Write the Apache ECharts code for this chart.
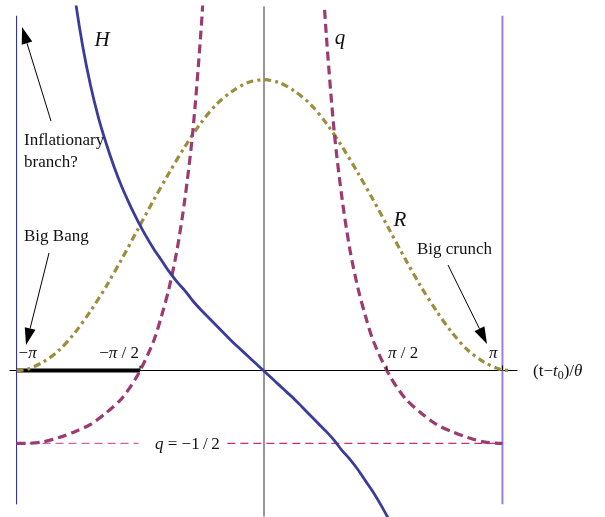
<!DOCTYPE html>
<html>
<head>
<meta charset="utf-8">
<script src="https://cdn.jsdelivr.net/npm/echarts@6/dist/echarts.min.js"></script>
<style>
  html, body { margin: 0; padding: 0; background: #fff; }
  #chart { width: 605px; height: 517px; }
</style>
</head>
<body>
<div id="chart"></div>
<script>
// Closed Friedmann model: scale factor R, Hubble rate H and deceleration q
// against (t - t0)/theta, one cycle from the big bang to the big crunch.

const bangX = -3.1416;     // big bang edge
const crunchX = 3.04;      // big crunch edge

// R
const xR   = [-3.1416, -3.0, -2.8, -2.6, -2.4, -2.2, -2.0, -1.8, -1.6, -1.4, -1.2, -1.0, -0.8, -0.6, -0.4, -0.2, 0,
              0.2, 0.4, 0.6, 0.8, 1.0, 1.2, 1.4, 1.6, 1.8, 2.0, 2.2, 2.4, 2.6, 2.8, 3.0, 3.1416];
const valR = [0, 0.01, 0.06, 0.14, 0.26, 0.41, 0.58, 0.77, 0.97, 1.17, 1.36, 1.54, 1.70, 1.83, 1.92, 1.98, 2.0,
              1.98, 1.92, 1.83, 1.70, 1.54, 1.36, 1.17, 0.97, 0.77, 0.58, 0.41, 0.26, 0.14, 0.06, 0.01, 0];

// q, expanding branch
const xQL   = [-3.1416, -3.0, -2.8, -2.6, -2.4, -2.2, -2.0, -1.8, -1.6, -1.4, -1.3, -1.2, -1.1, -1.0, -0.9, -0.8, -0.75, -0.7];
const valQL = [-0.50, -0.50, -0.49, -0.46, -0.42, -0.37, -0.29, -0.19, -0.03, 0.20, 0.37, 0.57, 0.83, 1.18, 1.64, 2.30, 2.73, 3.25];
// q, contracting branch
const xQR   = [0.7, 0.75, 0.8, 0.9, 1.0, 1.1, 1.2, 1.3, 1.4, 1.6, 1.8, 2.0, 2.2, 2.4, 2.6, 2.8, 3.0, 3.04];
const valQR = [3.25, 2.73, 2.30, 1.64, 1.18, 0.83, 0.57, 0.37, 0.20, -0.03, -0.19, -0.29, -0.37, -0.42, -0.46, -0.49, -0.50, -0.50];

// H
const xH   = [-2.5, -2.4, -2.3, -2.2, -2.1, -2.0, -1.9, -1.8, -1.7, -1.6, -1.5, -1.4, -1.3, -1.2, -1.1, -1.0,
              -0.9, -0.8, -0.7, -0.6, -0.5, -0.4, -0.3, -0.2, -0.1, 0,
              0.1, 0.2, 0.3, 0.4, 0.5, 0.6, 0.7, 0.8, 0.9, 1.0, 1.1, 1.2, 1.3, 1.4, 1.5, 1.6, 1.7];
const valH = [3.01, 2.57, 2.23, 1.96, 1.74, 1.56, 1.40, 1.26, 1.14, 1.03, 0.93, 0.84, 0.76, 0.68, 0.61, 0.55,
              0.48, 0.42, 0.365, 0.31, 0.255, 0.20, 0.15, 0.10, 0.05, 0,
              -0.05, -0.10, -0.15, -0.20, -0.255, -0.31, -0.365, -0.42, -0.48, -0.55, -0.61, -0.68, -0.76, -0.84, -0.93, -1.03, -1.14];

// q = -1/2 reference level, broken where its label sits
const qLimit = -0.5;
const qLimitLeft  = [bangX, -1.59];
const qLimitRight = [-0.46, crunchX];

// edges of the cycle (vertical extent)
const edgeY = [-0.92, 2.44];

// the decelerating stretch marked on the time axis
const boldStretch = [bangX, -1.5708];

// time-axis ticks
const tickX      = [bangX, -1.5708, 1.5708, crunchX];
const tickLabels = ['−π', '−π / 2', 'π / 2', 'π'];

const COL_H = '#3b3b9c';
const COL_Q = '#9b3b70';
const COL_R = '#9b8e3d';
const SERIF = '"Liberation Serif", "DejaVu Serif", serif';

const zip = (xs, ys) => xs.map((x, i) => [x, ys[i]]);

const chart = echarts.init(document.getElementById('chart'), null, { renderer: 'canvas' });

const curve = (name, data, color, width, type, z) => ({
  type: 'line', name: name, data: data, smooth: 0.3, symbol: 'none',
  lineStyle: { color: color, width: width, type: type }, z: z
});

chart.setOption({
  animation: false,
  backgroundColor: '#ffffff',
  grid: { left: 10, width: 507, top: 7, height: 509, containLabel: false },
  xAxis: {
    type: 'value', min: -3.225, max: 3.225,
    axisLine: { show: true, onZero: true, lineStyle: { color: '#000', width: 1 } },
    axisTick: { show: false }, axisLabel: { show: false }, splitLine: { show: false }
  },
  yAxis: {
    type: 'value', min: -1, max: 2.5,
    axisLine: { show: true, onZero: true, lineStyle: { color: '#747474', width: 1.5 } },
    axisTick: { show: false }, axisLabel: { show: false }, splitLine: { show: false }
  },
  series: [
    { type: 'line', name: 'bang edge', data: [[bangX, edgeY[0]], [bangX, edgeY[1]]],
      symbol: 'none', lineStyle: { color: '#2a22c6', width: 1 }, z: 1 },
    { type: 'line', name: 'crunch edge', data: [[crunchX, edgeY[0]], [crunchX, edgeY[1]]],
      symbol: 'none', lineStyle: { color: '#9a7fe2', width: 2 }, z: 1 },
    { type: 'line', name: 'q limit left', data: qLimitLeft.map(x => [x, qLimit]),
      symbol: 'none', lineStyle: { color: '#d160a2', width: 1.2, type: [8, 5] }, z: 2 },
    { type: 'line', name: 'q limit right', data: qLimitRight.map(x => [x, qLimit]),
      symbol: 'none', lineStyle: { color: '#c42e7c', width: 1.2, type: [8, 5] }, z: 2 },
    { type: 'line', name: 'bold stretch', data: boldStretch.map(x => [x, 0]),
      symbol: 'none', lineStyle: { color: '#000', width: 4 }, z: 3 },
    curve('R',  zip(xR, valR),   COL_R, 3.2, [7, 4, 3, 4], 4),
    curve('q+', zip(xQL, valQL), COL_Q, 3.2, [9, 5], 5),
    curve('q-', zip(xQR, valQR), COL_Q, 3.2, [9, 5], 5),
    curve('H',  zip(xH, valH),   COL_H, 2.8, 'solid', 6)
  ]
});

const toPx = (x, y) => chart.convertToPixel({ gridIndex: 0 }, [x, y]);
const axisY = toPx(0, 0)[1];

const rich = {
  n: { fontFamily: SERIF, fontSize: 17, fill: '#111' },
  i: { fontFamily: SERIF, fontSize: 17, fontStyle: 'italic', fill: '#111' },
  s: { fontFamily: SERIF, fontSize: 12, fill: '#111', padding: [9, 0, 0, 0] }
};

const g = [];

// tick marks and tick labels
tickX.forEach((x, k) => {
  const p = toPx(x, 0);
  if (k > 0) {
    g.push({ type: 'line', shape: { x1: p[0], y1: axisY, x2: p[0], y2: axisY - 5 },
             style: { stroke: '#000', lineWidth: 1 }, z: 10 });
  }
  const parts = tickLabels[k].split('π');
  const txt = '{n|' + parts[0] + '}{i|π}{n|' + parts[1] + '}';
  const align = (k === 0 || k === 2) ? 'left' : 'right';
  const dx = k === 0 ? 2 : (k === 2 ? 1 : (k === 1 ? -1 : -5));
  g.push({ type: 'text', z: 10,
           style: { text: txt, rich: rich, x: p[0] + dx, y: axisY - 17,
                    align: align, verticalAlign: 'middle' } });
});

// axis title
g.push({ type: 'text', z: 10,
         style: { text: '{n|(t−}{i|t}{s|0}{n|)/}{i|θ}', rich: rich, x: 533, y: axisY + 1,
                  align: 'left', verticalAlign: 'middle' } });

// q = -1/2 label
g.push({ type: 'text', z: 10,
         style: { text: '{i|q}{n| = −1\u2009/\u20092}', rich: rich, x: 155, y: toPx(0, qLimit)[1] + 1,
                  align: 'left', verticalAlign: 'middle' } });

// curve names
const nameFont = 'italic 21px ' + SERIF;
[['H', 102, 40], ['q', 340, 38], ['R', 400, 220]].forEach(([t, x, y]) => {
  g.push({ type: 'text', z: 10,
           style: { text: t, x: x, y: y, font: nameFont, fill: '#111', align: 'center', verticalAlign: 'middle' } });
});

// annotations
const noteFont = '17px ' + SERIF;
[['Inflationary', 24, 141], ['branch?', 24, 163], ['Big Bang', 24, 237], ['Big crunch', 417, 250]].forEach(([t, x, y]) => {
  g.push({ type: 'text', z: 10,
           style: { text: t, x: x, y: y, font: noteFont, fill: '#111', align: 'left', verticalAlign: 'middle' } });
});

function arrow(x1, y1, x2, y2) {
  const a = Math.atan2(y2 - y1, x2 - x1);
  const L = 17, W = 5.5;
  const bx = x2 - L * Math.cos(a), by = y2 - L * Math.sin(a);
  const nx = -Math.sin(a) * W, ny = Math.cos(a) * W;
  g.push({ type: 'line', z: 10, shape: { x1: x1, y1: y1, x2: bx, y2: by },
           style: { stroke: '#000', lineWidth: 1 } });
  g.push({ type: 'polygon', z: 10,
           shape: { points: [[x2, y2], [bx + nx, by + ny], [bx - nx, by - ny]] },
           style: { fill: '#000' } });
}
arrow(51, 121, 22, 27);
arrow(49, 253, 26, 345);
arrow(448, 265, 487, 344);

chart.setOption({ graphic: g });
</script>
</body>
</html>
